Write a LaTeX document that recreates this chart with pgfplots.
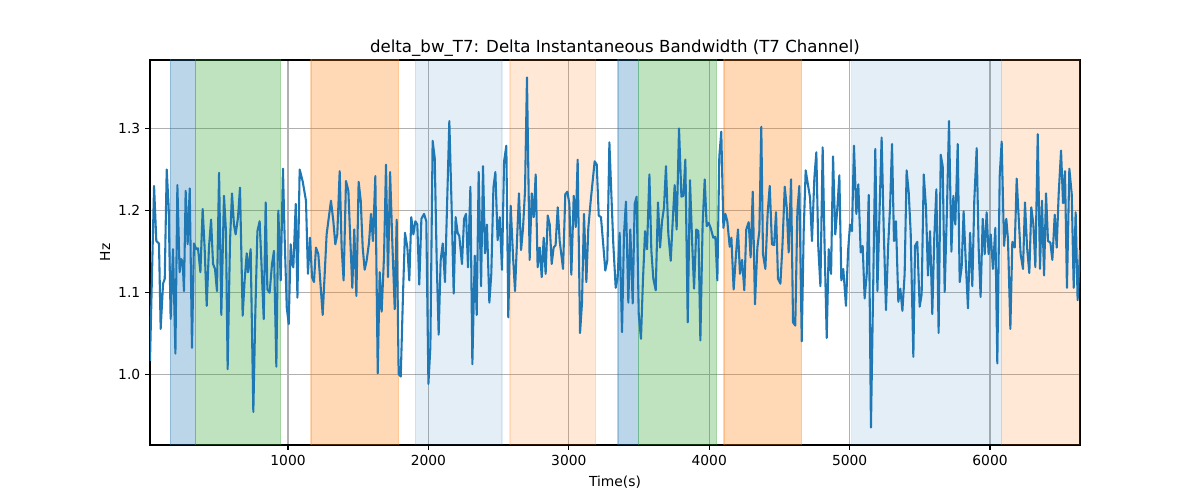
\documentclass[border=0pt]{standalone}
\usepackage{fontspec}
\setmainfont{DejaVu Sans}
\usepackage{pgfplots}
\usepackage{pgfplotstable}
\pgfplotsset{compat=1.18}
\definecolor{tabblue}{HTML}{1F77B4}
\definecolor{taborange}{HTML}{FF7F0E}
\definecolor{tabgreen}{HTML}{2CA02C}
\definecolor{gridgray}{HTML}{B0B0B0}

\pgfplotstableread{
x y
17 1.017
46 1.230
62 1.163
81 1.160
93 1.056
110 1.111
122 1.117
136 1.250
150 1.204
164 1.068
181 1.153
198 1.026
212 1.231
228 1.125
240 1.141
250 1.137
259 1.102
271 1.224
285 1.159
300 1.227
316 1.033
330 1.160
347 1.153
359 1.154
376 1.125
392 1.202
406 1.155
421 1.084
437 1.155
452 1.189
466 1.135
480 1.129
494 1.102
509 1.246
525 1.073
544 1.218
558 1.175
570 1.007
587 1.163
601 1.221
615 1.183
627 1.171
644 1.192
658 1.228
677 1.072
691 1.115
706 1.148
715 1.125
734 1.153
753 0.955
767 1.074
782 1.175
798 1.187
810 1.139
827 1.068
841 1.210
853 1.104
869 1.100
886 1.135
900 1.151
917 1.010
931 1.200
948 1.115
964 1.251
976 1.167
991 1.082
1005 1.062
1019 1.159
1029 1.135
1038 1.131
1055 1.208
1067 1.094
1083 1.250
1104 1.236
1128 1.212
1142 1.123
1157 1.167
1171 1.119
1185 1.113
1199 1.155
1216 1.147
1247 1.073
1275 1.171
1306 1.212
1323 1.187
1337 1.159
1351 1.171
1368 1.248
1382 1.155
1396 1.115
1413 1.236
1430 1.224
1444 1.163
1458 1.106
1472 1.177
1487 1.096
1503 1.235
1518 1.212
1532 1.155
1546 1.128
1560 1.139
1577 1.161
1591 1.196
1605 1.163
1622 1.242
1639 1.002
1653 1.125
1667 1.077
1684 1.145
1698 1.256
1712 1.119
1727 1.247
1743 1.161
1760 1.080
1774 1.189
1788 1.001
1803 0.998
1819 1.098
1833 1.173
1850 1.155
1864 1.115
1878 1.192
1893 1.171
1907 1.187
1921 1.183
1935 1.110
1950 1.190
1969 1.196
1985 1.187
2000 0.989
2014 1.034
2030 1.285
2045 1.264
2059 1.139
2073 1.049
2087 1.139
2102 1.160
2118 1.113
2135 1.220
2149 1.309
2166 1.200
2180 1.099
2194 1.192
2208 1.173
2220 1.169
2239 1.135
2254 1.190
2268 1.196
2282 1.131
2299 1.229
2313 1.013
2330 1.145
2344 1.073
2358 1.247
2375 1.108
2389 1.254
2403 1.148
2417 1.183
2434 1.088
2448 1.123
2463 1.228
2477 1.247
2493 1.164
2508 1.192
2524 1.128
2539 1.260
2555 1.279
2569 1.070
2586 1.206
2603 1.143
2617 1.102
2631 1.163
2645 1.221
2660 1.152
2674 1.179
2688 1.224
2702 1.362
2721 1.140
2736 1.221
2750 1.192
2764 1.244
2778 1.131
2793 1.155
2807 1.119
2821 1.167
2835 1.123
2850 1.194
2864 1.183
2878 1.135
2892 1.155
2906 1.158
2921 1.204
2935 1.163
2959 1.129
2975 1.220
2990 1.223
3004 1.208
3018 1.122
3035 1.218
3049 1.180
3063 1.262
3080 1.051
3094 1.088
3108 1.196
3125 1.113
3139 1.179
3156 1.212
3170 1.236
3184 1.260
3199 1.256
3213 1.194
3229 1.192
3246 1.157
3260 1.127
3274 1.139
3289 1.283
3303 1.220
3317 1.159
3334 1.106
3348 1.119
3362 1.173
3379 1.052
3393 1.171
3407 1.211
3424 1.088
3438 1.177
3455 1.087
3469 1.208
3483 1.217
3498 1.074
3514 1.044
3528 1.115
3543 1.175
3557 1.153
3574 1.244
3588 1.151
3602 1.117
3619 1.103
3635 1.210
3650 1.155
3664 1.187
3678 1.204
3692 1.254
3709 1.171
3726 1.139
3740 1.187
3754 1.231
3768 1.177
3785 1.300
3802 1.217
3816 1.218
3830 1.262
3847 1.064
3863 1.237
3878 1.163
3892 1.105
3908 1.177
3923 1.175
3937 1.042
3953 1.183
3968 1.238
3982 1.181
3996 1.185
4010 1.179
4029 1.167
4044 1.168
4058 1.115
4072 1.266
4086 1.296
4101 1.179
4115 1.196
4129 1.187
4146 1.156
4158 1.167
4174 1.104
4191 1.147
4205 1.177
4219 1.123
4234 1.140
4250 1.103
4264 1.177
4281 1.186
4295 1.143
4310 1.223
4326 1.086
4343 1.155
4357 1.175
4371 1.302
4383 1.147
4400 1.129
4416 1.196
4431 1.230
4447 1.159
4462 1.158
4476 1.198
4490 1.117
4507 1.111
4521 1.155
4538 1.229
4552 1.204
4566 1.149
4583 1.238
4597 1.064
4613 1.060
4628 1.200
4642 1.230
4659 1.041
4673 1.175
4687 1.249
4701 1.234
4718 1.216
4732 1.163
4749 1.240
4763 1.271
4777 1.155
4792 1.108
4808 1.277
4822 1.155
4837 1.045
4851 1.153
4868 1.123
4882 1.266
4898 1.171
4913 1.204
4927 1.243
4941 1.115
4955 1.129
4974 1.084
4989 1.151
5003 1.183
5017 1.175
5031 1.279
5048 1.196
5062 1.232
5079 1.149
5093 1.157
5107 1.093
5122 1.123
5136 1.219
5152 0.936
5167 1.098
5183 1.275
5198 1.102
5214 1.204
5228 1.289
5243 1.177
5259 1.079
5274 1.155
5288 1.204
5302 1.281
5316 1.163
5330 1.187
5347 1.089
5361 1.105
5376 1.078
5392 1.123
5406 1.249
5421 1.222
5435 1.173
5454 1.022
5466 1.157
5482 1.162
5499 1.083
5513 1.098
5528 1.244
5544 1.204
5558 1.121
5573 1.175
5589 1.074
5603 1.167
5618 1.226
5634 1.051
5649 1.268
5663 1.254
5677 1.101
5694 1.206
5708 1.309
5725 1.150
5739 1.218
5753 1.183
5770 1.281
5784 1.113
5798 1.131
5812 1.199
5829 1.131
5843 1.081
5858 1.173
5874 1.108
5888 1.212
5905 1.276
5919 1.155
5933 1.095
5948 1.190
5962 1.147
5976 1.198
5990 1.147
6005 1.171
6021 1.129
6038 1.179
6052 1.014
6069 1.242
6083 1.284
6100 1.157
6116 1.190
6128 1.165
6145 1.056
6159 1.162
6176 1.155
6190 1.239
6204 1.192
6218 1.147
6235 1.129
6249 1.210
6264 1.155
6280 1.124
6294 1.204
6309 1.183
6323 1.131
6340 1.293
6356 1.129
6370 1.212
6385 1.121
6399 1.221
6413 1.163
6430 1.161
6444 1.140
6461 1.195
6475 1.155
6489 1.220
6506 1.273
6520 1.209
6534 1.248
6548 1.106
6565 1.251
6582 1.220
6596 1.106
6610 1.198
6624 1.091
6641 1.152
}\datatable

\begin{document}
\begin{tikzpicture}
\useasboundingbox (-108bp,-39.6bp) rectangle (756bp,320.4bp);
\begin{axis}[
  at={(0,0)}, anchor=south west,
  scale only axis, width=669.6bp, height=277.2bp,
  xmin=17, xmax=6641, ymin=0.9147, ymax=1.3833,
  xtick={1000,2000,3000,4000,5000,6000},
  ytick={1.0,1.1,1.2,1.3},
  yticklabel style={/pgf/number format/.cd, fixed, fixed zerofill, precision=1},
  /pgf/number format/assume math mode=true,
  xticklabel style={/pgf/number format/1000 sep={}},
  tick label style={font=\fontsize{10}{12}\selectfont},
  tick align=outside, xtick pos=bottom, ytick pos=left,
  major tick length=3.5bp,
  every tick/.style={black, line width=0.8bp},
  grid=major,
  major grid style={gridgray, line width=0.8bp},
  axis line style={black, line width=0.8bp},
  title={delta\_bw\_T7: Delta Instantaneous Bandwidth (T7 Channel)},
  title style={font=\fontsize{12}{14}\selectfont, at={(0.5,1)}, anchor=south, yshift=-7bp},
  xlabel={Time(s)},
  ylabel={Hz},
  label style={font=\fontsize{10}{12}\selectfont},
  xlabel style={yshift=-1bp},
  ylabel style={yshift=-1bp},
  clip=true,
]
% shaded segments
\addplot[fill=tabblue, fill opacity=0.3, draw=tabblue, draw opacity=0.3, line width=0.8bp, forget plot] coordinates {(160,0.5) (160,1.5) (342,1.5) (342,0.5) (160,0.5)};
\addplot[fill=tabgreen, fill opacity=0.3, draw=tabgreen, draw opacity=0.3, line width=0.8bp, forget plot] coordinates {(342,0.5) (342,1.5) (948,1.5) (948,0.5) (342,0.5)};
\addplot[fill=taborange, fill opacity=0.3, draw=taborange, draw opacity=0.3, line width=0.8bp, forget plot] coordinates {(1164,0.5) (1164,1.5) (1788,1.5) (1788,0.5) (1164,0.5)};
\addplot[fill=tabblue, fill opacity=0.12, draw=tabblue, draw opacity=0.12, line width=0.8bp, forget plot] coordinates {(1905,0.5) (1905,1.5) (2524,1.5) (2524,0.5) (1905,0.5)};
\addplot[fill=taborange, fill opacity=0.17, draw=taborange, draw opacity=0.17, line width=0.8bp, forget plot] coordinates {(2581,0.5) (2581,1.5) (3192,1.5) (3192,0.5) (2581,0.5)};
\addplot[fill=tabblue, fill opacity=0.3, draw=tabblue, draw opacity=0.3, line width=0.8bp, forget plot] coordinates {(3350,0.5) (3350,1.5) (3495,1.5) (3495,0.5) (3350,0.5)};
\addplot[fill=tabgreen, fill opacity=0.3, draw=tabgreen, draw opacity=0.3, line width=0.8bp, forget plot] coordinates {(3495,0.5) (3495,1.5) (4053,1.5) (4053,0.5) (3495,0.5)};
\addplot[fill=taborange, fill opacity=0.3, draw=taborange, draw opacity=0.3, line width=0.8bp, forget plot] coordinates {(4105,0.5) (4105,1.5) (4659,1.5) (4659,0.5) (4105,0.5)};
\addplot[fill=tabblue, fill opacity=0.12, draw=tabblue, draw opacity=0.12, line width=0.8bp, forget plot] coordinates {(5015,0.5) (5015,1.5) (6081,1.5) (6081,0.5) (5015,0.5)};
\addplot[fill=taborange, fill opacity=0.17, draw=taborange, draw opacity=0.17, line width=0.8bp, forget plot] coordinates {(6081,0.5) (6081,1.5) (6700,1.5) (6700,0.5) (6081,0.5)};
% signal
\addplot[tabblue, line width=1.5bp, line join=round, mark=none] table[x=x, y=y] {\datatable};
\end{axis}
\end{tikzpicture}
\end{document}
